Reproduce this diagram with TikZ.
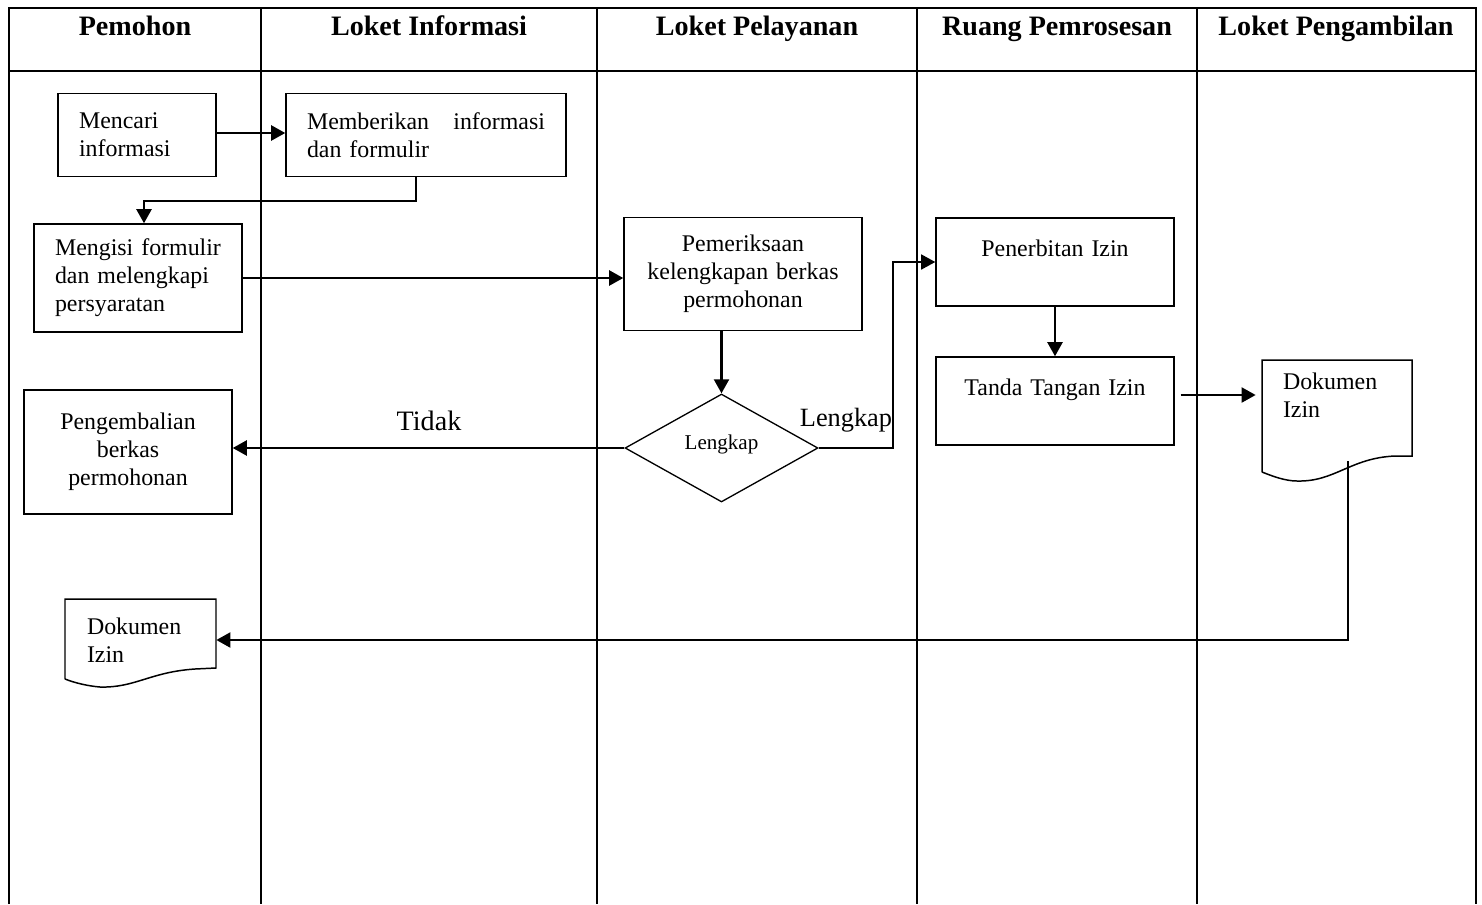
\documentclass[tikz,border=0pt]{standalone}
\usepackage{fontspec}
\setmainfont{Liberation Serif}
\usetikzlibrary{shapes.geometric,arrows.meta}

\newcommand{\isifont}{\fontsize{13.6}{15.9}\selectfont}
\newcommand{\judulfont}{\fontsize{16}{19}\selectfont\bfseries}

\begin{document}
\begin{tikzpicture}[x=0.02cm, y=-0.02cm,
    lajur/.style={line width=1.1pt},
    kotak/.style={draw, line width=0.85pt, inner xsep=0.42cm, inner ysep=0pt, font=\isifont},
    dok/.style={inner xsep=0.42cm, inner ysep=0pt, font=\isifont, align=left},
    putusan/.style={diamond, draw, line width=0.75pt, inner sep=0pt, minimum width=3.86cm, minimum height=2.16cm, font=\fontsize{12}{14}\selectfont},
    panah/.style={line width=1.4pt, -{Triangle[length=8pt,width=8.5pt]}},
    judul/.style={font=\judulfont, anchor=base}]
    \useasboundingbox (0,0) rectangle (1482,904);

    % Lanes
    \draw[lajur] (9,904) -- (9,8) -- (1476,8) -- (1476,904);
    \draw[lajur] (9,71) -- (1476,71);
    \draw[lajur] (261,8) -- (261,904);
    \draw[lajur] (597,8) -- (597,904);
    \draw[lajur] (917,8) -- (917,904);
    \draw[lajur] (1197,8) -- (1197,904);

    \node[judul] (hPemohon) at (135,35) {Pemohon};
    \node[judul] (hInfo) at (429,35) {Loket Informasi};
    \node[judul] (hLayan) at (757,35) {Loket Pelayanan};
    \node[judul] (hProses) at (1057,35) {Ruang Pemrosesan};
    \node[judul] (hAmbil) at (1336,35) {Loket Pengambilan};

    % Steps
    \node[kotak, text width=2.32cm, minimum height=1.66cm, align=left] (cari) at (137,135) {Mencari\\informasi};
    \node[kotak, text width=4.76cm, minimum height=1.66cm, align=left] (beri) at (426,135) {Memberikan\hfill informasi\\dan formulir};
    \node[kotak, text width=3.32cm, minimum height=2.16cm, align=left] (isi) at (138,278) {Mengisi formulir\\dan melengkapi\\persyaratan};
    \node[kotak, text width=3.92cm, minimum height=2.26cm, align=center] (periksa) at (743,274) {Pemeriksaan\\kelengkapan berkas\\permohonan};
    \node[putusan] (cek) at (721.5,448) {\raisebox{7pt}{Lengkap}};
    \node[kotak, text width=3.32cm, minimum height=2.48cm, align=center] (kembali) at (128,452) {Pengembalian\\berkas\\permohonan};
    \node[kotak, text width=3.92cm, minimum height=1.76cm, align=center] (terbit) at (1055,262) {Penerbitan Izin\\\mbox{}};
    \node[kotak, text width=3.92cm, minimum height=1.76cm, align=center] (ttd) at (1055,401) {Tanda Tangan Izin\\\mbox{}};

    % Documents
    \node[dok, text width=2.16cm, minimum width=3cm] (dokB) at (1337,395) {Dokumen\\Izin};
    \draw[line width=0.85pt] (1262,472) -- (1262,360) -- (1412,360) -- (1412,456) -- (1395,456)
        .. controls (1350,458) and (1335,482) .. (1297,481)
        .. controls (1285,481) and (1272,476) .. (1262,472);
    \node[dok, text width=2.14cm, minimum width=3.02cm] (dokA) at (140.5,640) {Dokumen\\Izin};
    \draw[line width=0.85pt] (65,679) -- (65,599) -- (216,599) -- (216,668) -- (195,669)
        .. controls (150,672) and (135,688) .. (100,687)
        .. controls (88,686) and (75,683) .. (65,679);
    \coordinate (ekorB) at (1348,461);

    % Labels
    \node[font=\fontsize{16}{19}\selectfont] (tidak) at (429,421) {Tidak};
    \node[font=\fontsize{15}{18}\selectfont] (lengkap) at (846,420) {Lengkap};

    % Flow
    \draw[panah] ([yshift=0.04cm]cari.east) -- ([yshift=0.04cm]cari.east -| beri.west);
    \draw[panah] ([xshift=-0.2cm]beri.south) -- ++(0,24) -| ([xshift=0.12cm]isi.north);
    \draw[panah] (isi.east) -- (isi.east -| periksa.west);
    \draw[panah] (cek.north |- periksa.south) -- (cek.north);
    \draw[panah] (cek.west) -- (cek.west -| kembali.east);
    \draw[panah, line width=1pt] (cek.east) -- ++(74,0) |- (terbit.west);
    \draw[panah] (terbit.south) -- (ttd.north);
    \draw[panah, shorten <=0.12cm, shorten >=0.12cm] (ttd.east |- dokB.west) -- (dokB.west);
    \draw[panah] (ekorB) |- (dokA.east);
\end{tikzpicture}
\end{document}
